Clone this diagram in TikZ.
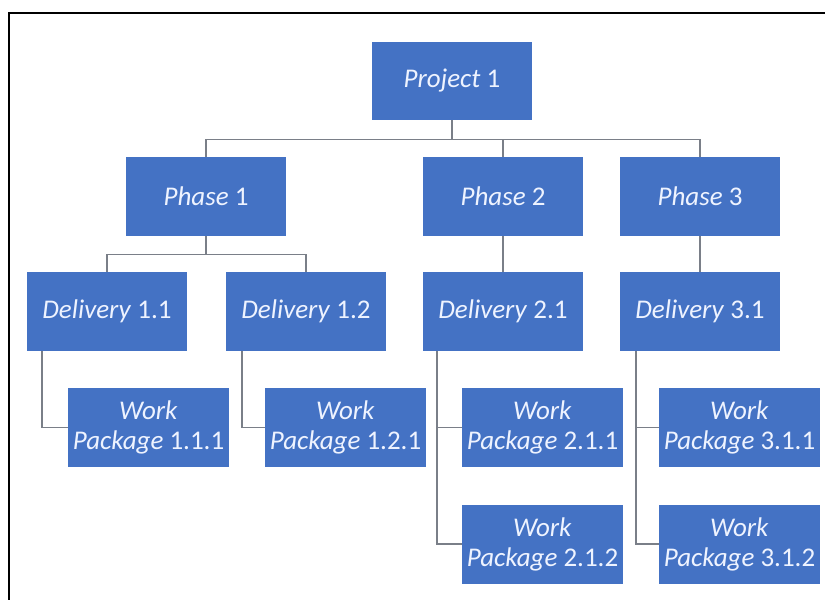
\documentclass[tikz,border=0pt]{standalone}
\usepackage{fontspec}
\setmainfont{Carlito}
\definecolor{boxblue}{HTML}{4472C4}
\definecolor{boxtext}{HTML}{EEF3FF}
\definecolor{linkgray}{HTML}{7A7F88}
\tikzset{
  wbs/.style={fill=boxblue, draw=none, text=boxtext, minimum width=160pt,
    minimum height=79pt, inner sep=0pt, align=center,
    font=\fontsize{27}{30}\selectfont},
  link/.style={draw=linkgray, line width=1.4pt},
  frameline/.style={draw=black, line width=2pt}
}
\begin{document}
\begin{tikzpicture}[x=1pt,y=-1pt]
\useasboundingbox (0,0) rectangle (825,600);
% frame edges
\coordinate (fc) at (9,13);
\coordinate (fr) at (825,13);
\coordinate (fb) at (9,600);
\draw[frameline] (fr) -- (fc) -- (fb);

% top level
\node[wbs, minimum height=78pt] (proj) at (452,81) {\textit{Project} 1};

% phases
\node[wbs] (ph1) at (206,196.5) {\textit{Phase} 1};
\node[wbs] (ph2) at (503,196.5) {\textit{Phase} 2};
\node[wbs] (ph3) at (700,196.5) {\textit{Phase} 3};

% deliveries
\node[wbs] (d11) at (107,311.5) {\textit{Delivery} 1.1};
\node[wbs] (d12) at (306,311.5) {\textit{Delivery} 1.2};
\node[wbs] (d21) at (503,311.5) {\textit{Delivery} 2.1};
\node[wbs] (d31) at (700,311.5) {\textit{Delivery} 3.1};

% work packages
\node[wbs, minimum width=161pt] (w111) at (148.5,427.5) {\textit{Work}\\\textit{Package} 1.1.1};
\node[wbs, minimum width=161pt] (w121) at (345.5,427.5) {\textit{Work}\\\textit{Package} 1.2.1};
\node[wbs, minimum width=161pt] (w211) at (542.5,427.5) {\textit{Work}\\\textit{Package} 2.1.1};
\node[wbs, minimum width=161pt] (w212) at (542.5,544) {\textit{Work}\\\textit{Package} 2.1.2};
\node[wbs, minimum width=161pt] (w311) at (739.5,427.5) {\textit{Work}\\\textit{Package} 3.1.1};
\node[wbs, minimum width=161pt] (w312) at (739.5,544) {\textit{Work}\\\textit{Package} 3.1.2};

% project to phases
\draw[link] (proj.south) -- ++(0,19) -| (ph1.north);
\draw[link] (proj.south) ++(0,19) -| (ph2.north);
\draw[link] (proj.south) ++(0,19) -| (ph3.north);

% phases to deliveries
\draw[link] (ph1.south) -- ++(0,18) -| (d11.north);
\draw[link] (ph1.south) ++(0,18) -| (d12.north);
\draw[link] (ph2.south) -- (d21.north);
\draw[link] (ph3.south) -- (d31.north);

% deliveries to work packages
\draw[link] ([xshift=15pt]d11.south west) |- (w111.west);
\draw[link] ([xshift=16pt]d12.south west) |- (w121.west);
\draw[link] ([xshift=14pt]d21.south west) |- (w211.west);
\draw[link] ([xshift=14pt]d21.south west) |- (w212.west);
\draw[link] ([xshift=16pt]d31.south west) |- (w311.west);
\draw[link] ([xshift=16pt]d31.south west) |- (w312.west);
\end{tikzpicture}
\end{document}
